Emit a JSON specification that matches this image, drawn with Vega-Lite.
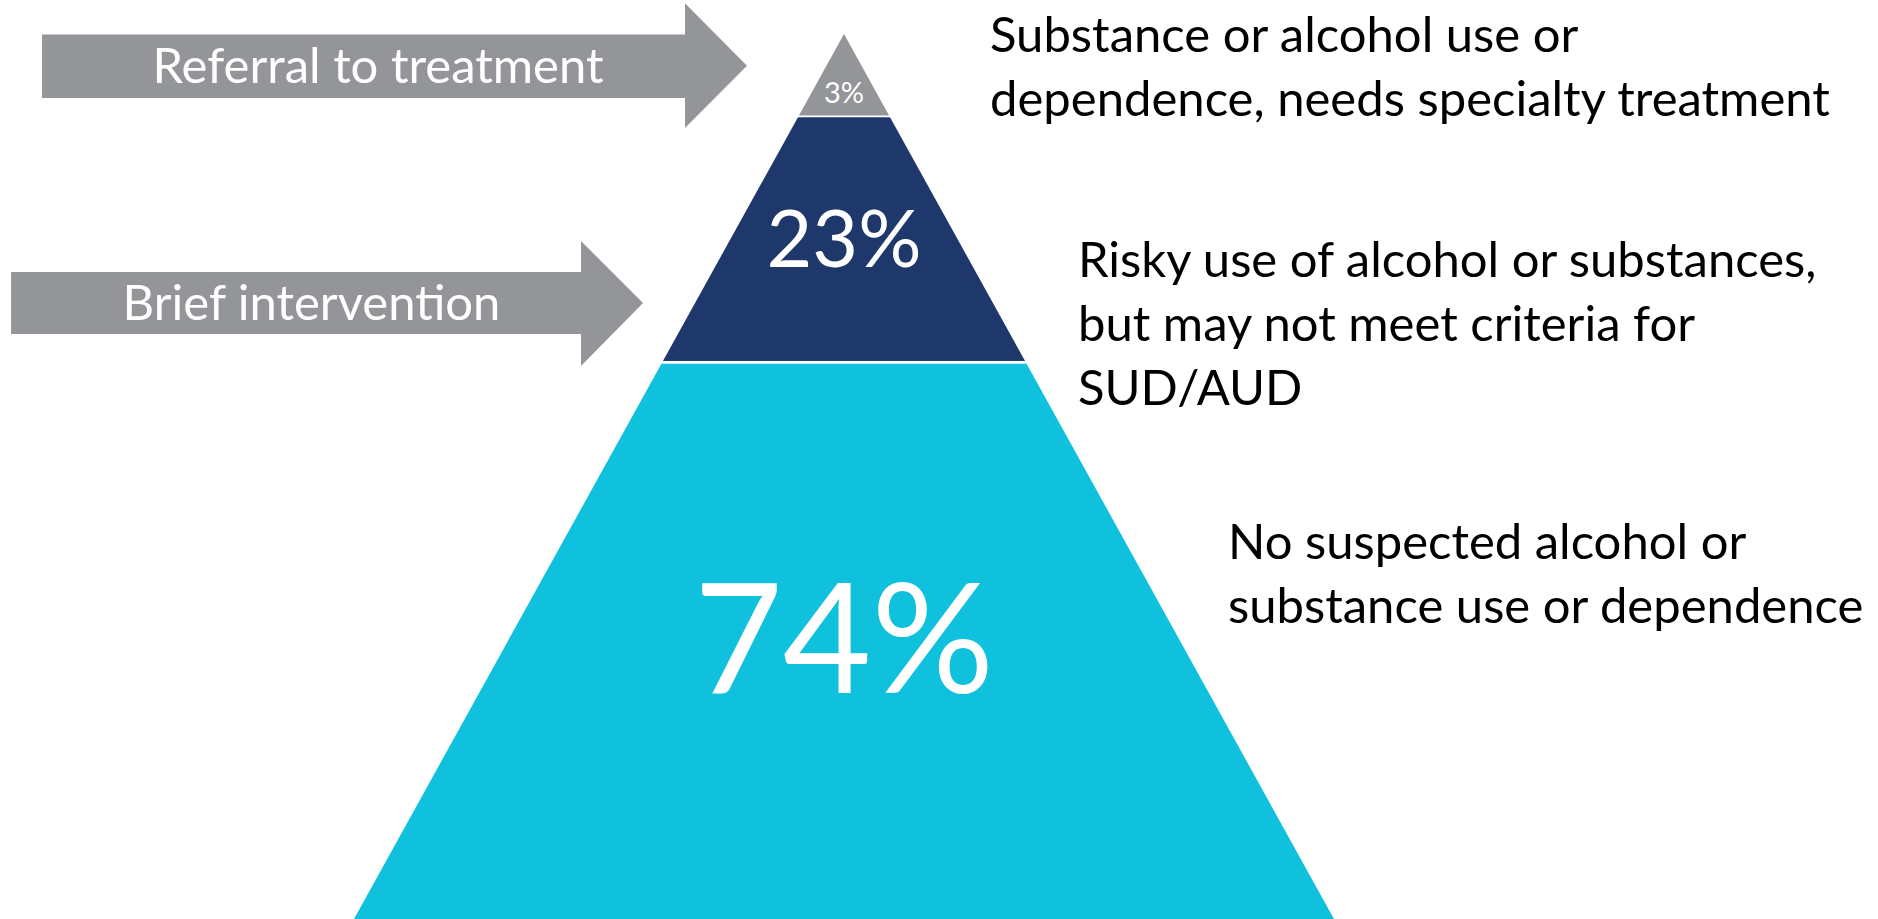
{
  "$schema": "https://vega.github.io/schema/vega-lite/v6.json",
  "width": 1878,
  "height": 919,
  "padding": 0,
  "autosize": {"type": "fit", "contains": "padding"},
  "background": "white",
  "config": {"view": {"stroke": null}},
  "datasets": {
    "tiers": [
      {"tier": "No suspected use", "h": 0, "left": -55.37, "right": 55.37},
      {"tier": "No suspected use", "h": 62.75, "left": -20.63, "right": 20.63},
      {"tier": "Risky use", "h": 63.05, "left": -20.46, "right": 20.46},
      {"tier": "Risky use", "h": 90.6, "left": -5.2, "right": 5.2},
      {"tier": "Needs specialty treatment", "h": 90.8, "left": -5.09, "right": 5.09},
      {"tier": "Needs specialty treatment", "h": 100, "left": 0, "right": 0}
    ],
    "arrowBodies": [
      {"arrow": "Referral to treatment", "x0": -90.62, "x1": -17.97, "y0": 92.77, "y1": 99.94},
      {"arrow": "Brief intervention", "x0": -94.12, "x1": -29.72, "y0": 66.1, "y1": 73.11}
    ],
    "arrowHeads": [
      {"arrow": "Referral to treatment", "x": -17.97, "lo": 89.38, "hi": 103.47},
      {"arrow": "Referral to treatment", "x": -10.96, "lo": 96.4, "hi": 96.4},
      {"arrow": "Brief intervention", "x": -29.72, "lo": 62.49, "hi": 76.61},
      {"arrow": "Brief intervention", "x": -22.71, "lo": 69.6, "hi": 69.6}
    ],
    "arrowLabels": [
      {"label": "Referral to treatment", "x": -52.66, "h": 94.43},
      {"label": "Brief intervention", "x": -60.17, "h": 67.68}
    ],
    "sideLabels": [
      {"label": "Substance or alcohol use or\ndependence, needs specialty treatment", "x": 16.5, "h": 97.97},
      {"label": "Risky use of alcohol or substances,\nbut may not meet criteria for\nSUD/AUD", "x": 26.44, "h": 72.49},
      {"label": "No suspected alcohol or\nsubstance use or dependence", "x": 43.39, "h": 40.73}
    ],
    "shares": [
      {"tier": "No suspected use", "pct": "74%", "x": 0, "h": 25.54},
      {"tier": "Risky use", "pct": "23%", "x": 0, "h": 73.64},
      {"tier": "Needs specialty treatment", "pct": "3%", "x": 0, "h": 92.17}
    ]
  },
  "layer": [
    {
      "data": {"name": "tiers"},
      "mark": {"type": "area", "orient": "horizontal", "interpolate": "linear"},
      "encoding": {
        "y": {"field": "h", "type": "quantitative", "axis": null, "scale": {"domain": [0, 103.84], "nice": false, "zero": false}},
        "x": {"field": "left", "type": "quantitative", "axis": null, "scale": {"domain": [-95.37, 116.84], "nice": false, "zero": false}},
        "x2": {"field": "right"},
        "color": {
          "field": "tier", "type": "nominal", "legend": null,
          "scale": {"domain": ["No suspected use", "Risky use", "Needs specialty treatment"], "range": ["#0FC1DC", "#1F386B", "#939598"]}
        }
      }
    },
    {
      "data": {"name": "arrowBodies"},
      "mark": {"type": "rect", "color": "#939598"},
      "encoding": {
        "x": {"field": "x0", "type": "quantitative", "axis": null, "scale": {"domain": [-95.37, 116.84], "nice": false, "zero": false}},
        "x2": {"field": "x1"},
        "y": {"field": "y0", "type": "quantitative", "axis": null, "scale": {"domain": [0, 103.84], "nice": false, "zero": false}},
        "y2": {"field": "y1"}
      }
    },
    {
      "data": {"name": "arrowHeads"},
      "mark": {"type": "area", "orient": "vertical", "color": "#939598", "interpolate": "linear"},
      "encoding": {
        "x": {"field": "x", "type": "quantitative", "axis": null, "scale": {"domain": [-95.37, 116.84], "nice": false, "zero": false}},
        "y": {"field": "lo", "type": "quantitative", "axis": null, "scale": {"domain": [0, 103.84], "nice": false, "zero": false}},
        "y2": {"field": "hi"},
        "detail": {"field": "arrow", "type": "nominal"}
      }
    },
    {
      "data": {"name": "arrowLabels"},
      "mark": {"type": "text", "align": "center", "baseline": "alphabetic", "font": "Lato", "fontSize": 49, "color": "white"},
      "encoding": {
        "x": {"field": "x", "type": "quantitative", "axis": null, "scale": {"domain": [-95.37, 116.84], "nice": false, "zero": false}},
        "y": {"field": "h", "type": "quantitative", "axis": null, "scale": {"domain": [0, 103.84], "nice": false, "zero": false}},
        "text": {"field": "label", "type": "nominal"}
      }
    },
    {
      "data": {"name": "sideLabels"},
      "mark": {"type": "text", "align": "left", "baseline": "alphabetic", "font": "Lato", "fontSize": 49, "lineBreak": "\n", "lineHeight": 64, "color": "black"},
      "encoding": {
        "x": {"field": "x", "type": "quantitative", "axis": null, "scale": {"domain": [-95.37, 116.84], "nice": false, "zero": false}},
        "y": {"field": "h", "type": "quantitative", "axis": null, "scale": {"domain": [0, 103.84], "nice": false, "zero": false}},
        "text": {"field": "label", "type": "nominal"}
      }
    },
    {
      "data": {"name": "shares"},
      "transform": [{"filter": "datum.pct === '74%'"}],
      "mark": {"type": "text", "align": "center", "baseline": "alphabetic", "font": "Lato", "fontSize": 153, "color": "white"},
      "encoding": {
        "x": {"field": "x", "type": "quantitative", "axis": null, "scale": {"domain": [-95.37, 116.84], "nice": false, "zero": false}},
        "y": {"field": "h", "type": "quantitative", "axis": null, "scale": {"domain": [0, 103.84], "nice": false, "zero": false}},
        "text": {"field": "pct", "type": "nominal"}
      }
    },
    {
      "data": {"name": "shares"},
      "transform": [{"filter": "datum.pct === '23%'"}],
      "mark": {"type": "text", "align": "center", "baseline": "alphabetic", "font": "Lato", "fontSize": 79, "color": "white"},
      "encoding": {
        "x": {"field": "x", "type": "quantitative", "axis": null, "scale": {"domain": [-95.37, 116.84], "nice": false, "zero": false}},
        "y": {"field": "h", "type": "quantitative", "axis": null, "scale": {"domain": [0, 103.84], "nice": false, "zero": false}},
        "text": {"field": "pct", "type": "nominal"}
      }
    },
    {
      "data": {"name": "shares"},
      "transform": [{"filter": "datum.pct === '3%'"}],
      "mark": {"type": "text", "align": "center", "baseline": "alphabetic", "font": "Lato", "fontSize": 29, "color": "white"},
      "encoding": {
        "x": {"field": "x", "type": "quantitative", "axis": null, "scale": {"domain": [-95.37, 116.84], "nice": false, "zero": false}},
        "y": {"field": "h", "type": "quantitative", "axis": null, "scale": {"domain": [0, 103.84], "nice": false, "zero": false}},
        "text": {"field": "pct", "type": "nominal"}
      }
    }
  ]
}
